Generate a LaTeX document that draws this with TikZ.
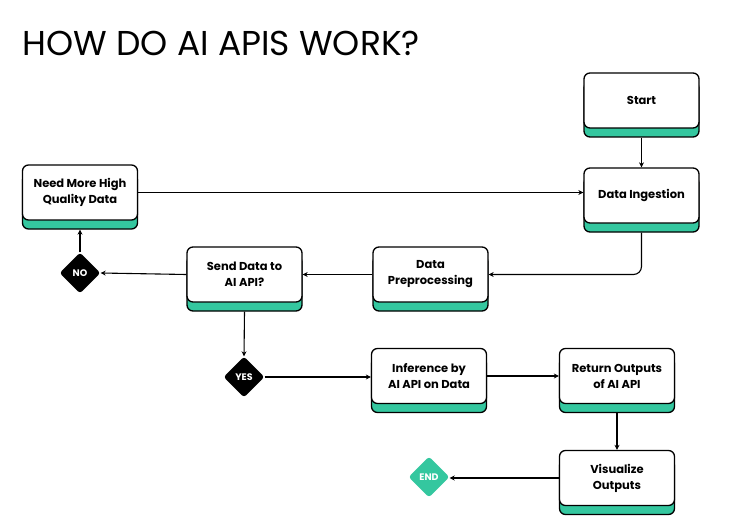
\documentclass[tikz,border=0pt]{standalone}
\usepackage{fontspec}
\setmainfont{Poppins}
\usetikzlibrary{shapes.geometric,arrows.meta,shadows}
\definecolor{tealc}{RGB}{52,199,159}
\tikzset{
  flowbox/.style={draw=black, line width=1.3pt, fill=white, rounded corners=6pt,
    minimum width=115pt, minimum height=55pt, align=center, inner sep=2pt,
    font=\fontsize{11.5}{16}\selectfont\bfseries,
    general shadow={fill=tealc, draw=black, line width=1.3pt, shadow xshift=0pt, shadow yshift=-9pt}},
  decision/.style={diamond, fill=black, minimum width=41pt, minimum height=41pt, inner sep=0pt,
    rounded corners=3pt, text=white, font=\fontsize{9.5}{10}\selectfont\bfseries},
  flowarrow/.style={draw=black, line width=1.1pt, -{Stealth[length=5pt,width=5pt]}},
}
\begin{document}
\begin{tikzpicture}[x=1pt,y=-1pt]
\useasboundingbox (0,0) rectangle (736,532);
\node[anchor=base west, font=\fontsize{34.5}{38}\selectfont] (title) at (19,56) {HOW DO AI APIS WORK?};
\node[flowbox] (start) at (641.5,100.5) {Start};
\node[flowbox] (di) at (641.5,195.5) {Data Ingestion};
\node[flowbox] (need) at (80,192.5) {Need More High\\Quality Data};
\node[flowbox] (send) at (244.5,274.5) {Send Data to\\AI API?};
\node[flowbox] (dp) at (430.5,274.5) {Data\\Preprocessing};
\node[flowbox] (inf) at (429,376) {Inference by\\AI API on Data};
\node[flowbox] (ret) at (617,376) {Return Outputs\\of AI API};
\node[flowbox] (vis) at (617,478) {Visualize\\Outputs};
\node[decision] (no) at (80,273) {NO};
\node[decision] (yes) at (244,377) {YES};
\node[decision, fill=tealc] (end) at (429,477) {END};
\draw[flowarrow] ([yshift=-9pt]start.south) -- (di.north);
\draw[flowarrow] (need.east) -- (need.east -| di.west);
\draw[flowarrow, rounded corners=8pt] ([yshift=-9pt]di.south) |- (dp.east);
\draw[flowarrow] (dp.west) -- (dp.west -| send.east);
\draw[flowarrow] (send.west) -- (no.east);
\draw[flowarrow] (no.north) -- ([yshift=-9pt]need.south);
\draw[flowarrow] ([yshift=-9pt]send.south) -- (yes.north);
\draw[flowarrow] (yes.east) -- (yes.east -| inf.west);
\draw[flowarrow] (inf.east) -- (inf.east -| ret.west);
\draw[flowarrow] ([yshift=-9pt]ret.south) -- (vis.north);
\draw[flowarrow] (vis.west) -- (vis.west -| end.east);
\end{tikzpicture}
\end{document}
